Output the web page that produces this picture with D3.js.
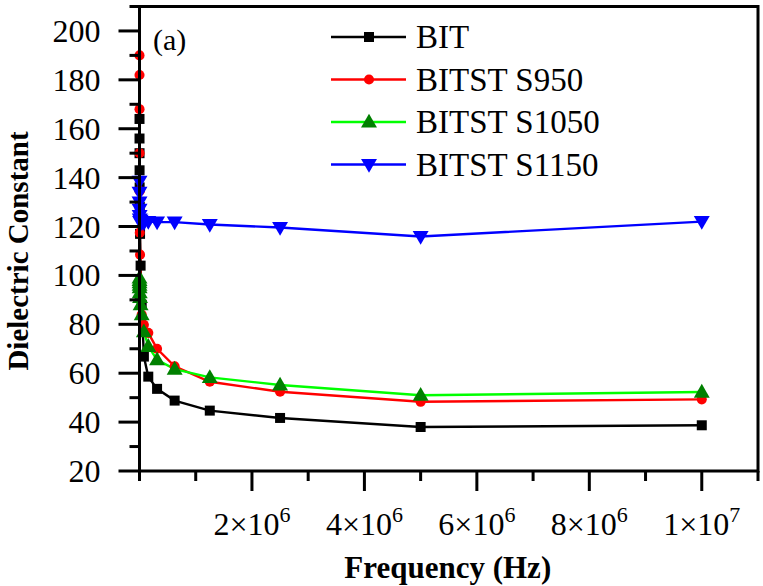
<!DOCTYPE html>
<html>
<head>
<meta charset="utf-8">
<script src="https://cdn.jsdelivr.net/npm/d3@7"></script>
<style>
  body { margin: 0; background: #fff; }
  text { font-family: "Liberation Serif", "DejaVu Serif", serif; }
</style>
</head>
<body>
<svg width="763" height="586"></svg>
<script>
// Frequencies (Hz), halving steps from 10 MHz down
const freq = [152.6, 305.2, 610.4, 1220.7, 2441.4, 4882.8, 9765.6, 19531, 39063,
    78125, 156250, 312500, 625000, 1250000, 2500000, 5000000, 10000000];

// Dielectric constant for each sample
const bit     = [164, 156, 150, 143, 136, 128, 117, 104, 88, 66.8, 58.6, 53.6, 48.8, 44.7, 41.7, 38, 38.7];
const s950    = [190, 182, 168, 150, 134.5, 117.5, 108.5, 95, 84, 79.8, 76.5, 70, 62.8, 56.5, 52.4, 48.3, 49.3];
const s1050   = [99, 98, 97, 96, 95, 93, 91, 88, 84, 77, 71, 65.5, 61.7, 58.3, 55.2, 51, 52.3];
const s1150   = [138.5, 134, 130, 127, 124.5, 123, 122, 122.5, 121.5, 121.5, 122, 121.8, 121.8, 120.8, 119.6, 115.9, 122];

const seriesNames = ["BIT", "BITST S950", "BITST S1050", "BITST S1150"];

// Tick labels on the x axis
const xTickValues = [2e6, 4e6, 6e6, 8e6, 1e7];
const xTickLabels = [["2", "6"], ["4", "6"], ["6", "6"], ["8", "6"], ["1", "7"]];
const yTickValues = [20, 40, 60, 80, 100, 120, 140, 160, 180, 200];

// Styles per series
const styles = [
    { line: "#000000", fill: "#000000", symbol: d3.symbolSquare, size: 100, rot: 0, dy: 0 },
    { line: "#ff0000", fill: "#ff0000", symbol: d3.symbolCircle, size: 80, rot: 0, dy: 0 },
    { line: "#00ff00", fill: "#008000", symbol: d3.symbolTriangle, size: 110, rot: 0, dy: 1 },
    { line: "#0000ff", fill: "#0000ff", symbol: d3.symbolTriangle, size: 110, rot: 180, dy: -1 },
];

const svg = d3.select("svg");
const margin = { left: 139.5, right: 5, top: 6.5, bottom: 115 };
const width = +svg.attr("width");
const height = +svg.attr("height");

const x = d3.scaleLinear().domain([0, 1.1e7]).range([margin.left, width - margin.right]);
const y = d3.scaleLinear().domain([20, 210]).range([height - margin.bottom, margin.top]);

const allSeries = [bit, s950, s1050, s1150];

// Lines
const line = d3.line().x((d, i) => x(freq[i])).y(d => y(d));

allSeries.forEach((vals, k) => {
    svg.append("path")
        .datum(vals)
        .attr("fill", "none")
        .attr("stroke", styles[k].line)
        .attr("stroke-width", 2.4)
        .attr("d", line);
});

// Markers
allSeries.forEach((vals, k) => {
    const st = styles[k];
    svg.append("g").selectAll("path")
        .data(vals)
        .enter()
        .append("path")
        .attr("d", d3.symbol().type(st.symbol).size(st.size))
        .attr("fill", st.fill)
        .attr("transform", (d, i) => `translate(${x(freq[i])},${y(d) + st.dy}) rotate(${st.rot})`);
});

// Frame
svg.append("rect")
    .attr("x", x(0)).attr("y", y(210))
    .attr("width", x(1.1e7) - x(0)).attr("height", y(20) - y(210))
    .attr("fill", "none").attr("stroke", "#000").attr("stroke-width", 3);

// X axis ticks
const xAxis = svg.append("g").attr("transform", `translate(0,${y(20)})`);
d3.range(0, 12).forEach(m => {
    const major = m % 2 === 0 && m > 0 && m <= 10;
    xAxis.append("line")
        .attr("x1", x(m * 1e6)).attr("x2", x(m * 1e6))
        .attr("y1", 0).attr("y2", major ? 20 : 10)
        .attr("stroke", "#000").attr("stroke-width", 3);
});
xTickValues.forEach((v, i) => {
    const t = xAxis.append("text")
        .attr("x", x(v)).attr("y", 64)
        .attr("text-anchor", "middle")
        .attr("font-size", 32);
    t.append("tspan").text(xTickLabels[i][0] + "\u00d710");
    t.append("tspan").attr("dy", -13).attr("font-size", 22).text(xTickLabels[i][1]);
});

// Y axis ticks
const yAxis = svg.append("g").attr("transform", `translate(${x(0)},0)`);
d3.range(20, 211, 10).forEach(v => {
    const major = v % 20 === 0;
    yAxis.append("line")
        .attr("x1", 0).attr("x2", major ? -21 : -10)
        .attr("y1", y(v)).attr("y2", y(v))
        .attr("stroke", "#000").attr("stroke-width", 3);
});
yTickValues.forEach(v => {
    yAxis.append("text")
        .attr("x", -39).attr("y", y(v) + 11)
        .attr("text-anchor", "end")
        .attr("font-size", 32)
        .text(v);
});

// Axis titles
svg.append("text")
    .attr("x", x(5.5e6) - 1).attr("y", 578)
    .attr("text-anchor", "middle")
    .attr("font-size", 31).attr("font-weight", "bold")
    .text("Frequency (Hz)");

svg.append("text")
    .attr("transform", `translate(28,${251}) rotate(-90)`)
    .attr("text-anchor", "middle")
    .attr("font-size", 29).attr("font-weight", "bold")
    .text("Dielectric Constant");

svg.append("text")
    .attr("x", 153).attr("y", 50)
    .attr("font-size", 30)
    .text("(a)");

// Legend
const legend = svg.append("g").attr("transform", "translate(331,37)");
seriesNames.forEach((name, i) => {
    const st = styles[i];
    const gy = i * 42.5;
    legend.append("line")
        .attr("x1", 0).attr("x2", 75)
        .attr("y1", gy).attr("y2", gy)
        .attr("stroke", st.line).attr("stroke-width", 2.4);
    legend.append("path")
        .attr("d", d3.symbol().type(st.symbol).size(st.size))
        .attr("fill", st.fill)
        .attr("transform", `translate(38,${gy + st.dy}) rotate(${st.rot})`);
    legend.append("text")
        .attr("x", 85).attr("y", gy + 11)
        .attr("font-size", 33)
        .text(name);
});
</script>
</body>
</html>
